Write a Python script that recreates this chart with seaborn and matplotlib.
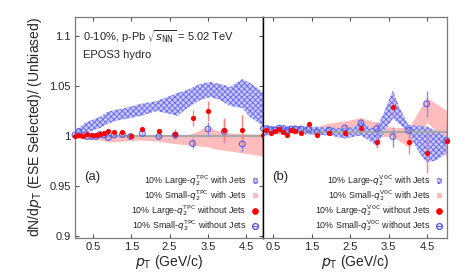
import numpy as np
import matplotlib
matplotlib.use("Agg")
import matplotlib.pyplot as plt
import seaborn as sns
import pandas as pd
from matplotlib.patches import Patch
from matplotlib.lines import Line2D

# panel (a): TPC selection
pt_a = [0.03, 0.13, 0.25, 0.35, 0.47, 0.58, 0.68, 0.79, 0.90, 1.05, 1.27, 1.48, 1.79, 2.22, 2.65, 3.10, 3.50, 3.93, 4.40, 4.95]
large_nojet_a = [1.000, 1.0015, 1.000, 1.0025, 1.001, 1.001, 1.0025, 1.003, 1.005, 1.004, 1.004, 1.000, 1.0075, 1.005, 1.002, 1.018, 1.025, 1.006, 1.0065, 1.0015]
large_nojet_a_err = [0.001, 0.001, 0.001, 0.001, 0.001, 0.001, 0.001, 0.001, 0.001, 0.001, 0.001, 0.0015, 0.002, 0.003, 0.005, 0.008, 0.010, 0.012, 0.015, 0.020]
small_nojet_a = [1.0015, 1.005, 1.001, 1.000, 1.000, 1.000, 1.002, 1.0015, 0.999, 1.0015, 1.002, 1.000, 1.003, 1.000, 1.0015, 0.993, 1.0075, 1.005, 0.9925, 1.008]
small_nojet_a_err = [0.001, 0.001, 0.001, 0.001, 0.001, 0.001, 0.001, 0.001, 0.001, 0.001, 0.001, 0.0015, 0.002, 0.002, 0.003, 0.005, 0.007, 0.012, 0.008, 0.015]

band_pt_a = [0.06, 0.16, 0.29, 0.47, 0.68, 0.87, 1.08, 1.34, 1.73, 2.17, 2.51, 2.70, 2.96, 3.30, 3.56, 3.82, 4.08, 4.40, 4.60, 4.94]
large_jet_a_hi = [1.0065, 1.0095, 1.0135, 1.0165, 1.0195, 1.0245, 1.0265, 1.0285, 1.0325, 1.0355, 1.0405, 1.0435, 1.0465, 1.0525, 1.0545, 1.0525, 1.0495, 1.0575, 1.0535, 1.0445]
large_jet_a_lo = [0.9995, 1.0025, 1.0035, 1.0055, 1.0085, 1.0125, 1.0155, 1.0175, 1.0205, 1.0255, 1.0225, 1.0205, 1.0285, 1.0365, 1.0395, 1.0365, 1.0305, 1.0285, 1.0195, 1.0105]
pink_pt_a = [0.06, 0.42, 0.68, 0.94, 1.34, 1.73, 2.17, 2.51, 2.96, 3.30, 3.51, 3.69, 4.08, 4.60, 4.94]
small_jet_a_hi = [1.0015, 1.0015, 1.001, 1.0005, 1.000, 1.0005, 1.000, 0.9995, 1.0015, 1.0065, 1.0095, 1.0065, 1.0035, 1.0025, 1.0025]
small_jet_a_lo = [0.9985, 0.9975, 0.9965, 0.9945, 0.9955, 0.9965, 0.9955, 0.9935, 0.9915, 0.9905, 0.9895, 0.9875, 0.9855, 0.9825, 0.9805]

# panel (b): V0C selection
pt_b = [0.32, 0.43, 0.54, 0.65, 0.76, 0.86, 0.96, 1.06, 1.22, 1.42, 1.64, 1.95, 2.36, 2.78, 3.19, 3.61, 4.02, 4.49, 5.01]
large_nojet_b = [1.0017, 0.9983, 1.001, 1.0025, 0.9993, 0.997, 1.0017, 1.001, 0.9985, 1.0077, 0.997, 0.999, 0.999, 1.004, 0.9895, 1.025, 0.9895, 0.979, 0.991]
large_nojet_b_err = [0.001, 0.001, 0.001, 0.001, 0.001, 0.001, 0.001, 0.001, 0.0015, 0.003, 0.002, 0.002, 0.003, 0.004, 0.006, 0.010, 0.012, 0.020, 0.020]
small_nojet_b = [1.003, 1.002, 1.0015, 1.0033, 1.003, 1.001, 1.0025, 1.0027, 1.0025, 1.002, 0.9993, 1.0015, 1.0035, 1.0085, 1.003, 0.995, 1.001, 1.0277, 0.991]
small_nojet_b_err = [0.001, 0.001, 0.001, 0.001, 0.001, 0.001, 0.001, 0.001, 0.0015, 0.002, 0.002, 0.002, 0.003, 0.004, 0.007, 0.010, 0.007, 0.013, 0.015]

band_pt_b = [0.23, 0.54, 0.93, 1.45, 1.97, 2.36, 2.62, 2.78, 3.01, 3.19, 3.40, 3.61, 3.79, 4.02, 4.26, 4.49, 4.73, 5.01]
large_jet_b_hi = [1.005, 1.005, 1.005, 1.005, 1.004, 1.003, 1.005, 1.010, 1.004, 1.003, 1.021, 1.041, 1.023, 1.006, 1.006, 1.005, 1.001, 0.995]
large_jet_b_lo = [0.995, 0.998, 0.998, 0.997, 0.996, 0.993, 0.995, 0.996, 0.991, 0.985, 1.001, 1.013, 1.007, 0.999, 0.981, 0.969, 0.971, 0.978]
pink_pt_b = [0.23, 0.93, 1.45, 1.89, 2.41, 2.78, 3.19, 3.61, 4.03, 4.49, 5.01]
small_jet_b_hi = [1.002, 1.0025, 1.003, 1.008, 1.011, 1.014, 1.009, 1.004, 1.004, 1.034, 1.021]
small_jet_b_lo = [0.997, 0.998, 0.998, 1.000, 1.000, 1.001, 0.995, 0.995, 0.984, 1.009, 0.993]

xticks = [0.5, 1.5, 2.5, 3.5, 4.5]
yticks = [0.9, 0.95, 1.0, 1.05, 1.1]
ytick_labels = ["0.9", "0.95", "1", "1.05", "1.1"]

RED = "#ff0000"
RED_ERR = "#ff8080"
BLUE = "#5a5ae6"
BLUE_ERR = "#8c8cf0"
PINK = "#ffbcbc"
HATCH_FACE = "#c8c8fb"
HATCH_EDGE = "#6464f5"

sns.set_style("ticks")
plt.rcParams['font.family'] = ['Liberation Sans', 'DejaVu Sans']
plt.rcParams['hatch.linewidth'] = 0.6
plt.rcParams['mathtext.fontset'] = 'dejavusans'

fig = plt.figure(figsize=(4.7, 2.8), dpi=100)
ax_a = fig.add_axes([75 / 470, 1 - 238 / 280, 188 / 470, 221 / 280])
ax_b = fig.add_axes([263 / 470, 1 - 238 / 280, 184 / 470, 221 / 280])


def draw_panel(ax, pt, large, large_err, small, small_err, bpt, bhi, blo, ppt, phi, plo, det, tag):
    ax.fill_between(ppt, plo, phi, color=PINK, linewidth=0, zorder=1)
    ax.fill_between(bpt, blo, bhi, facecolor=HATCH_FACE, edgecolor=HATCH_EDGE,
                    hatch='xxxxxx', linewidth=0, zorder=2)
    ax.axhline(1.0, color="#a8a8a8", lw=1.6, zorder=2.5)
    ax.errorbar(pt, small, yerr=small_err, fmt='none', ecolor=BLUE_ERR, elinewidth=1.0, zorder=3)
    ax.errorbar(pt, large, yerr=large_err, fmt='none', ecolor=RED_ERR, elinewidth=1.0, zorder=3)
    df_s = pd.DataFrame({'pt': pt, 'v': small})
    df_l = pd.DataFrame({'pt': pt, 'v': large})
    sns.scatterplot(data=df_s, x='pt', y='v', ax=ax, marker='o', s=17, facecolor='none',
                    edgecolor=BLUE, linewidth=0.8, zorder=4, clip_on=False)
    sns.scatterplot(data=df_l, x='pt', y='v', ax=ax, marker='o', s=14, color=RED,
                    edgecolor=RED, linewidth=0, zorder=5, clip_on=False)
    ax.set_xlabel(r"$p_{\rm T}$ (GeV/c)", fontsize=10, labelpad=0.5)
    ax.set_ylabel("")
    ax.set_xticks(xticks)
    ax.set_xticklabels([str(t) for t in xticks], fontsize=8)
    ax.tick_params(direction='in', length=3, top=True, right=True, color="#555555", pad=3)
    for s in ax.spines.values():
        s.set_color("#7a7a7a")
        s.set_linewidth(0.9)
    ax.text(0.05, 0.276, tag, transform=ax.transAxes, fontsize=9.5, va='center')
    handles = [
        Patch(facecolor=HATCH_FACE, edgecolor=HATCH_EDGE, hatch='xxxxxx', linewidth=0),
        Patch(facecolor=PINK, edgecolor='none'),
        Line2D([], [], marker='o', color=RED, linestyle='none', markersize=3.8),
        Line2D([], [], marker='o', color=BLUE, markerfacecolor='none', linestyle='-',
               linewidth=0.8, markersize=4.2),
    ]
    q2 = r"$q_2^{\rm " + det + r"}$"
    labels = [
        "10% Large-" + q2 + " with Jets",
        "10% Small-" + q2 + " with Jets",
        "10% Large-" + q2 + " without Jets",
        "10% Small-" + q2 + " without Jets",
    ]
    leg = ax.legend(handles, labels, loc='lower right', frameon=False, markerfirst=False,
                    fontsize=6.4, handlelength=0.6, handleheight=0.6, handletextpad=0.7,
                    labelspacing=0.0, borderaxespad=0.25, borderpad=0.3,
                    bbox_to_anchor=(1.0, 0.0))
    for t in leg.get_texts():
        t.set_ha('right')
    leg._legend_box.align = "right"


draw_panel(ax_a, pt_a, large_nojet_a, large_nojet_a_err, small_nojet_a, small_nojet_a_err,
           band_pt_a, large_jet_a_hi, large_jet_a_lo, pink_pt_a, small_jet_a_hi, small_jet_a_lo, "TPC", "(a)")
draw_panel(ax_b, pt_b, large_nojet_b, large_nojet_b_err, small_nojet_b, small_nojet_b_err,
           band_pt_b, large_jet_b_hi, large_jet_b_lo, pink_pt_b, small_jet_b_hi, small_jet_b_lo, "V0C", "(b)")

ax_a.set_xlim(0.03, 4.94)
ax_b.set_xlim(0.23, 5.02)
ax_a.set_ylim(0.8985, 1.1195)
ax_b.set_ylim(0.8935, 1.1145)

ax_a.set_yticks(yticks)
ax_a.set_yticklabels(ytick_labels, fontsize=8)
ax_a.set_ylabel(r"dN/d$p_{\rm T}$ (ESE Selected)/ (Unbiased)", fontsize=10, labelpad=4)
ax_a.spines['right'].set_color('black')
ax_a.spines['right'].set_linewidth(1.0)
ax_b.spines['left'].set_color('black')
ax_b.spines['left'].set_linewidth(1.0)
ax_b.set_yticks([])
ax_b.tick_params(left=False, right=False)

ax_a.text(0.045, 0.89, r"0-10%, p-Pb $\sqrt{s_{\rm NN}}$ = 5.02 TeV", transform=ax_a.transAxes, fontsize=8)
ax_a.text(0.045, 0.815, "EPOS3 hydro", transform=ax_a.transAxes, fontsize=8)

fig.savefig("out.png", dpi=100)
